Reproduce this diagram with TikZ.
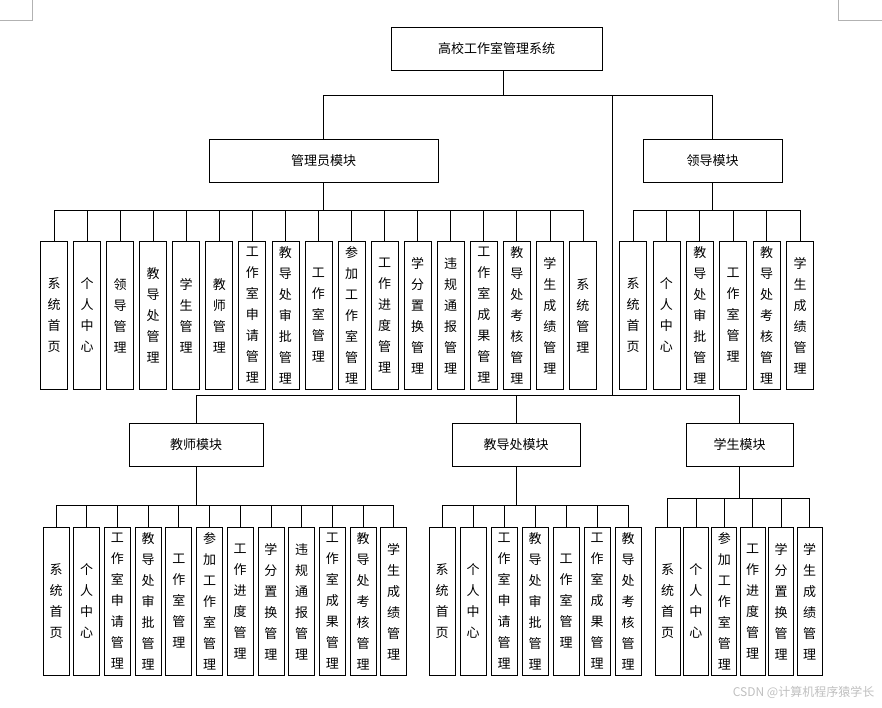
\documentclass[tikz,border=0pt]{standalone}
\usepackage{fontspec}
\setmainfont{Noto Sans CJK SC}
\XeTeXlinebreaklocale "zh"
\XeTeXlinebreakskip=0pt plus 1pt
\begin{document}
\begin{tikzpicture}[x=1pt,y=-1pt,line width=0.8pt,
  box/.style={draw,minimum width=#1,minimum height=43,inner sep=0pt,font=\fontsize{13}{15}\selectfont},
  leaf/.style={draw,minimum width=#1,minimum height=148,inner sep=0pt,anchor=north,
     text width=14pt,align=center,font=\fontsize{13}{21}\selectfont},
  wire/.style={draw,line width=0.8pt}]
\useasboundingbox (0,0) rectangle (882,708);
% crop marks
\draw[gray!60,line width=0.5pt] (32,0) -- (32,20) -- (0,20) (838,0) -- (838,20) -- (882,20);
\node[box=211] (root) at (496.5,48.5) {高校工作室管理系统};
\node[box=229] (adm) at (323.5,160.5) {管理员模块};
\node[box=139] (lead) at (712.5,160.5) {领导模块};
\node[box=134] (tea) at (196,445) {教师模块};
\node[box=128] (dean) at (516,445) {教导处模块};
\node[box=107] (stu) at (739.5,445) {学生模块};
\coordinate (j) at (612,395);
\coordinate (r) at (503,95);
\draw[wire] (root.south -| r) -- (r) -| (adm.north);
\draw[wire] (r) -| (lead.north);
\draw[wire] (r) -| (j);
\draw[wire] (j) -| (tea.north);
\draw[wire] (j) -| (dean.north);
\draw[wire] (j) -| (stu.north);
% admin
\foreach \t [count=\i] in {系统首页,个人中心,领导管理,教导处管理,学生管理,教师管理,工作室申请管理,教导处审批管理,工作室管理,参加工作室管理,工作进度管理,学分置换管理,违规通报管理,工作室成果管理,教导处考核管理,学生成绩管理,系统管理}{
  \node[leaf=27] (a\i) at ({54+(\i-1)*33.06},241) {\t};
  \draw[wire] (adm.south) -- (adm.south|-0,210) -| (a\i.north);
}
\foreach \t [count=\i] in {系统首页,个人中心,教导处审批管理,工作室管理,教导处考核管理,学生成绩管理}{
  \node[leaf=27] (l\i) at ({633+(\i-1)*33.4},241) {\t};
  \draw[wire] (lead.south) -- (lead.south|-0,210) -| (l\i.north);
}
\foreach \t [count=\i] in {系统首页,个人中心,工作室申请管理,教导处审批管理,工作室管理,参加工作室管理,工作进度管理,学分置换管理,违规通报管理,工作室成果管理,教导处考核管理,学生成绩管理}{
  \node[leaf=26] (t\i) at ({56+(\i-1)*30.7},527) {\t};
  \draw[wire] (tea.south) -- (tea.south|-0,505) -| (t\i.north);
}
\foreach \t [count=\i] in {系统首页,个人中心,工作室申请管理,教导处审批管理,工作室管理,工作室成果管理,教导处考核管理}{
  \node[leaf=26] (d\i) at ({442+(\i-1)*31},527) {\t};
  \draw[wire] (dean.south) -- (dean.south|-0,505) -| (d\i.north);
}
\foreach \t [count=\i] in {系统首页,个人中心,参加工作室管理,工作进度管理,学分置换管理,学生成绩管理}{
  \node[leaf=25] (s\i) at ({667.5+(\i-1)*28.4},527) {\t};
  \draw[wire] (stu.south) -- (stu.south|-0,498) -| (s\i.north);
}
\node[anchor=east,text=gray!50,font=\fontsize{12}{14}\selectfont] (wm) at (878,692) {CSDN @计算机程序猿学长};
\end{tikzpicture}
\end{document}
